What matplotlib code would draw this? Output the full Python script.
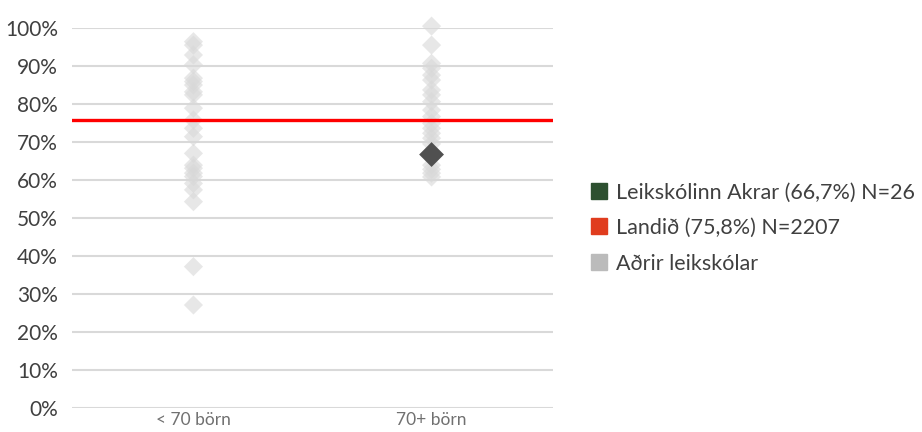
import matplotlib
matplotlib.use("Agg")
import matplotlib.pyplot as plt
from matplotlib.lines import Line2D

plt.rcParams['font.family'] = ['Lato', 'DejaVu Sans']

categories = ["< 70 börn", "70+ börn"]
small_vals = [96.4, 95.5, 92.9, 90.3, 86.8, 85.9, 85.0, 83.2, 82.4, 78.9,
              75.8, 73.6, 71.4, 67.0, 63.9, 63.1, 61.8, 60.9, 59.1, 57.4,
              54.3, 37.2, 27.1]
large_vals = [100.5, 95.5, 90.7, 89.4, 87.6, 86.3, 83.7, 82.4, 80.6, 78.4,
              76.7, 74.9, 73.6, 72.3, 71.0, 69.5, 63.9, 62.8, 61.8, 60.8]
school_val = 66.7
school_cat = 1
national_val = 75.8
legend_labels = ["Leikskólinn Akrar (66,7%) N=26", "Landið (75,8%) N=2207", "Aðrir leikskólar"]
yticks = list(range(0, 101, 10))

fig = plt.figure(figsize=(9.22, 4.32), dpi=100)
ax = fig.add_axes([72/922, 24/432, (553-72)/922, 380/432])

for i, vals in enumerate([small_vals, large_vals]):
    ax.scatter([i]*len(vals), vals, marker='D', s=95, color='#d8d8d8',
               alpha=0.6, edgecolors='none', zorder=3, clip_on=False)
ax.scatter([school_cat], [school_val], marker='D', s=160, color='#505050',
           edgecolors='none', zorder=5)
ax.axhline(national_val, color='#ff0000', lw=2.4, zorder=4)

ax.set_xlim(-0.51, 1.51)
ax.set_ylim(0, 100)
ax.set_yticks(yticks)
ax.set_yticklabels([f"{v}%" for v in yticks])
ax.set_xticks([0, 1])
ax.set_xticklabels(categories)
ax.grid(axis='y', color='#d9d9d9', lw=1.5, zorder=0)
ax.set_axisbelow(True)
for s in ax.spines.values():
    s.set_visible(False)
ax.tick_params(axis='both', length=0, colors='#404040')
ax.tick_params(axis='y', labelsize=15, pad=10)
ax.tick_params(axis='x', labelsize=12.5, pad=3)
for lab in ax.get_xticklabels():
    lab.set_color('#707070')

handles = [Line2D([], [], marker='s', ls='none', color=c, markersize=11.5)
           for c in ['#2d5030', '#e03c1e', '#bbbbbb']]
fig.legend(handles, legend_labels, loc='center left',
           bbox_to_anchor=(580/922, (432-228)/432), frameon=False, fontsize=15.5,
           labelcolor='#404040', handletextpad=0.25, labelspacing=0.72,
           handlelength=1.0, borderaxespad=0)

fig.savefig("out.png", dpi=100)
